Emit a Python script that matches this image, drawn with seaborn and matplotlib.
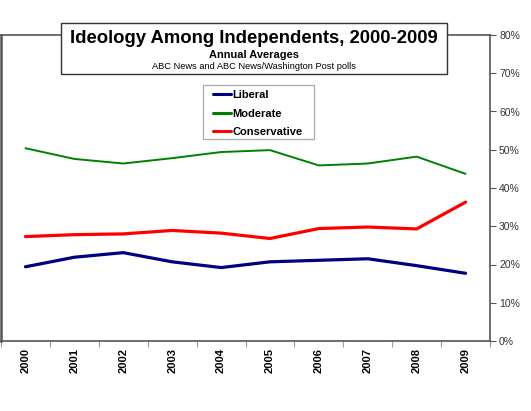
import numpy as np
import pandas as pd
import seaborn as sns
import matplotlib
matplotlib.use("Agg")
from matplotlib import pyplot as plt
from matplotlib.patches import Rectangle
from matplotlib.ticker import FuncFormatter, FixedLocator

# values (percent)
years = ["2000", "2001", "2002", "2003", "2004", "2005", "2006", "2007", "2008", "2009"]
liberal = [19.4, 21.9, 23.1, 20.7, 19.2, 20.7, 21.1, 21.5, 19.7, 17.7]
moderate = [50.4, 47.6, 46.4, 47.8, 49.4, 49.9, 45.9, 46.4, 48.2, 43.7]
conservative = [27.3, 27.8, 28.0, 28.9, 28.2, 26.8, 29.4, 29.8, 29.3, 36.3]
series = ["Liberal", "Moderate", "Conservative"]
colors = {"Liberal": "#000080", "Moderate": "#008000", "Conservative": "#ff0000"}

df = pd.DataFrame({"year": years * 3,
                   "share": liberal + moderate + conservative,
                   "series": np.repeat(series, len(years))})

sns.set_style("white")
plt.rcParams["font.family"] = ["Liberation Sans", "DejaVu Sans"]
plt.rcParams["text.color"] = "black"

fig = plt.figure(figsize=(5.31, 4.11), dpi=100)
W, H = 531, 411
ax = fig.add_axes([1 / W, 1 - 341 / H, 489 / W, 306 / H])

sns.lineplot(data=df, x="year", y="share", hue="series", hue_order=series,
             palette=colors, sort=False, ax=ax, legend=False)
for line, lw in zip(ax.lines, [2.3, 1.4, 2.3]):
    line.set_linewidth(lw)

ax.set_xlim(-0.5, len(years) - 0.5)
ax.set_ylim(0, 80)
ax.set_xlabel("")
ax.set_ylabel("")

# y axis on the right
ax.yaxis.tick_right()
ax.set_yticks(range(0, 81, 10))
ax.yaxis.set_major_formatter(FuncFormatter(lambda v, p: f"{int(v)}%"))
ax.tick_params(axis="y", direction="out", length=4, width=0.8, color="#555555",
               labelsize=7.5, labelcolor="#333333", pad=2.5, right=True, left=False)

# x: labels at categories, tick marks between categories
ax.set_xticks(range(len(years)))
ax.set_xticklabels(years, rotation=90, fontweight="bold", fontsize=8, color="black")
ax.xaxis.set_minor_locator(FixedLocator(np.arange(-0.5, len(years), 1.0)))
ax.tick_params(axis="x", which="major", length=0, pad=5)
ax.tick_params(axis="x", which="minor", direction="out", length=4, width=0.8,
               color="#999999", bottom=True)

for s in ax.spines.values():
    s.set_color("#555555")
    s.set_linewidth(1.2)
ax.spines["left"].set_linewidth(1.8)

# legend (frame drawn separately)
fig.patches.append(Rectangle((203 / W, 1 - 139 / H), 111 / W, 54 / H,
                             transform=fig.transFigure, facecolor="white",
                             edgecolor="#aaaaaa", linewidth=0.9, zorder=4))
handles = [plt.Line2D([], [], color=colors[s], lw=2.2) for s in series]
leg = fig.legend(handles, series, loc="upper left",
                 bbox_to_anchor=(210 / W, 1 - 87 / H), frameon=False,
                 handlelength=1.55, handletextpad=0.15,
                 labelspacing=0.76, borderpad=0.3, borderaxespad=0,
                 prop={"weight": "bold", "size": 8})
leg.set_zorder(6)

# title box
fig.patches.append(Rectangle((60.5 / W, 1 - 74 / H), 386.5 / W, 51 / H,
                             transform=fig.transFigure, facecolor="white",
                             edgecolor="#333333", linewidth=1.0, zorder=5))
cx = 254 / W
fig.text(cx, 1 - 38.5 / H, "Ideology Among Independents, 2000-2009", ha="center",
         va="center", fontsize=13.3, fontweight="bold", zorder=6)
fig.text(cx, 1 - 55 / H, "Annual Averages", ha="center", va="center",
         fontsize=7.9, fontweight="bold", zorder=6)
fig.text(cx, 1 - 66.5 / H, "ABC News and ABC News/Washington Post polls",
         ha="center", va="center", fontsize=6.7, zorder=6)

fig.savefig("out.png", dpi=100)
